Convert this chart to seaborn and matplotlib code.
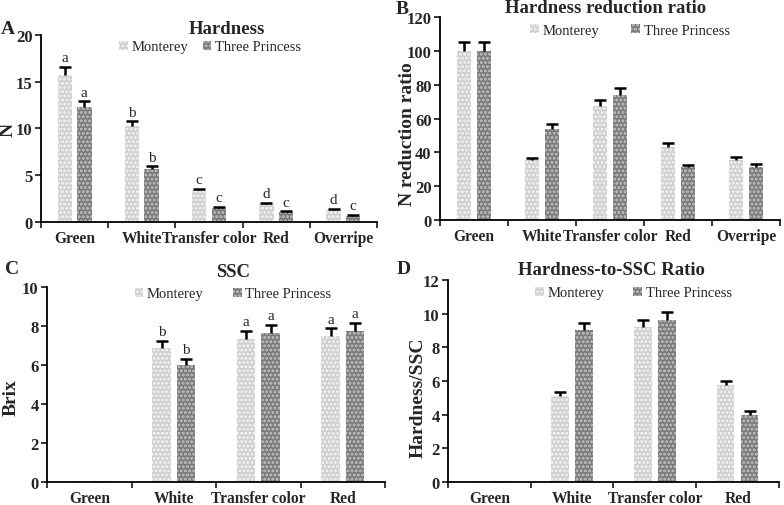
import numpy as np
import pandas as pd
import seaborn as sns
import matplotlib.pyplot as plt

# ---------------- data ----------------
stages5 = ["Green", "White", "Transfer color", "Red", "Overripe"]
stages4 = ["Green", "White", "Transfer color", "Red"]
cultivars = ["Monterey", "Three Princess"]

hard_mont = [15.75, 10.3, 3.38, 1.93, 1.28]
hard_mont_err = [0.8, 0.45, 0.12, 0.08, 0.08]
hard_tp = [12.25, 5.64, 1.5, 1.05, 0.68]
hard_tp_err = [0.65, 0.3, 0.08, 0.08, 0.1]
hard_mont_let = ["a", "b", "c", "d", "d"]
hard_tp_let = ["a", "b", "c", "c", "c"]

red_mont = [100.2, 35.3, 67.5, 43.4, 35.7]
red_mont_err = [5.3, 1.6, 3.5, 2.0, 1.8]
red_tp = [100.2, 54.0, 74.0, 31.2, 31.4]
red_tp_err = [5.3, 3.0, 4.0, 1.5, 1.9]

ssc_mont = [0.03, 6.87, 7.32, 7.5]
ssc_mont_err = [0.0, 0.36, 0.41, 0.38]
ssc_tp = [0.03, 5.98, 7.66, 7.74]
ssc_tp_err = [0.0, 0.34, 0.41, 0.41]
ssc_mont_let = ["", "b", "a", "a"]
ssc_tp_let = ["", "b", "a", "a"]

ratio_mont = [0.03, 5.1, 9.2, 5.75]
ratio_mont_err = [0.0, 0.26, 0.42, 0.27]
ratio_tp = [0.03, 9.02, 9.65, 4.0]
ratio_tp_err = [0.0, 0.42, 0.45, 0.22]

sns.set_style("ticks")
plt.rcParams["font.family"] = ["Liberation Serif", "DejaVu Serif"]
plt.rcParams["hatch.linewidth"] = 1.4

mont_col = "#cfcfcf"
tp_col = "#7a7a7a"
hatch_cols = ["#f5f5f5", "#c4c4c4"]


def panel(ax, stages, mont, mont_err, tp, tp_err, ymax, ystep, title, tpos,
          ylabel, ylpos, lpos, colsp, letter, letpos, let_m=None, let_t=None):
    df = pd.DataFrame({
        "stage": stages * 2,
        "value": mont + tp,
        "cultivar": [cultivars[0]] * len(stages) + [cultivars[1]] * len(stages),
    })
    sns.barplot(data=df, x="stage", y="value", hue="cultivar", order=stages,
                hue_order=cultivars, palette=[mont_col, tp_col], width=0.58,
                gap=0.26, errorbar=None, ax=ax)
    n = len(stages)
    bars = ax.patches[:2 * n]
    errs = mont_err + tp_err
    lets = (let_m or [""] * n) + (let_t or [""] * n)
    for i, b in enumerate(bars):
        hue = 0 if i < n else 1
        b.set_hatch("....")
        b.set_edgecolor(hatch_cols[hue])
        b.set_linewidth(0)
        xc = b.get_x() + b.get_width() / 2
        h = b.get_height()
        if errs[i] > 0:
            # upper error only, T-shaped
            ax.vlines(xc, h, h + errs[i], color="black", lw=1.8)
            ax.plot([xc], [h + errs[i]], marker="_", ms=8, mew=1.8,
                    color="black")
        if lets[i]:
            ax.annotate(lets[i], (xc, h + errs[i]), xytext=(0, 2),
                        textcoords="offset points", ha="center", va="bottom",
                        fontsize=11)
    ax.set_xlim(-0.5, n - 0.5)
    ax.set_ylim(0, ymax)
    ax.set_yticks(np.arange(0, ymax + 0.01, ystep))
    ax.set_yticklabels([f"{v:g}" for v in np.arange(0, ymax + 0.01, ystep)],
                       fontsize=12, fontweight="bold")
    ax.set_xticks(np.arange(-0.5, n, 1.0))
    ax.set_xticklabels([""] * (n + 1))
    ax.set_xticks(np.arange(n), minor=True)
    ax.set_xticklabels(stages, minor=True, fontsize=11.2, fontweight="bold")
    ax.tick_params(axis="x", which="minor", length=0, pad=6)
    ax.tick_params(axis="x", which="major", length=4, width=1.3, direction="out")
    ax.tick_params(axis="y", length=4, width=1.3, direction="out", pad=2)
    ax.set_xlabel("")
    ax.set_ylabel(ylabel, fontsize=14, fontweight="bold")
    ax.yaxis.set_label_coords(ylpos[0], ylpos[1])
    for s in ["top", "right"]:
        ax.spines[s].set_visible(False)
    for s in ["left", "bottom"]:
        ax.spines[s].set_linewidth(1.3)
        ax.spines[s].set_color("black")
    ax.text(tpos[0], tpos[1], title, transform=ax.transAxes, ha="center",
            va="center", fontsize=13.5, fontweight="bold")
    handles, labels = ax.get_legend_handles_labels()
    for hnd, hc in zip(handles, hatch_cols):
        hnd.set_hatch("....")
        hnd.set_edgecolor(hc)
        hnd.set_linewidth(0)
    ax.legend(handles, labels, loc="center", bbox_to_anchor=lpos, ncol=2,
              frameon=False, fontsize=10.5, handlelength=0.6, handleheight=0.6,
              handletextpad=0.25, columnspacing=colsp, borderpad=0)
    ax.figure.text(letpos[0] / 784, 1 - letpos[1] / 506, letter, ha="center",
                   va="center", fontsize=14, fontweight="bold")


fig = plt.figure(figsize=(7.84, 5.06), dpi=100)
axA = fig.add_axes([0.0523, 0.5593, 0.4286, 0.3696])
axB = fig.add_axes([0.5612, 0.5632, 0.4337, 0.4012])
axC = fig.add_axes([0.0600, 0.0455, 0.4311, 0.3854])
axD = fig.add_axes([0.5714, 0.0455, 0.4222, 0.3992])

panel(axA, stages5, hard_mont, hard_mont_err, hard_tp, hard_tp_err, 20, 5,
      "Hardness", (0.553, 1.037), "N", (-0.072, 0.5), (0.503, 0.936), 1.0,
      "A", (8, 30), hard_mont_let, hard_tp_let)
panel(axB, stages5, red_mont, red_mont_err, red_tp, red_tp_err, 120, 20,
      "Hardness reduction ratio", (0.488, 1.049), "N reduction ratio",
      (-0.07, 0.43), (0.559, 0.936), 2.2, "B", (402, 9))
panel(axC, stages4, ssc_mont, ssc_mont_err, ssc_tp, ssc_tp_err, 10, 2,
      "SSC", (0.55, 1.077), "Brix", (-0.08, 0.436), (0.55, 0.964), 2.0,
      "C", (12, 270), ssc_mont_let, ssc_tp_let)
panel(axD, stages4, ratio_mont, ratio_mont_err, ratio_tp, ratio_tp_err, 12, 2,
      "Hardness-to-SSC Ratio", (0.495, 1.05), "Hardness/SSC",
      (-0.063, 0.42), (0.56, 0.936), 2.0, "D", (404, 270))

fig.savefig("out.png", dpi=100)
